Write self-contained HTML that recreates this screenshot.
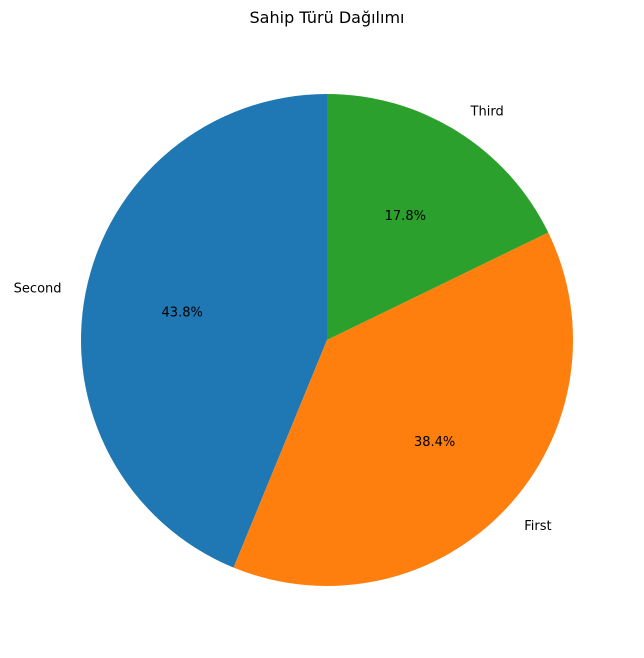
<!DOCTYPE html>
<html><head><meta charset="utf-8"><style>
body{margin:0;background:#fff;}
svg{display:block;font-family:"DejaVu Sans","Liberation Sans",sans-serif;}
</style></head><body>
<svg id="chart" width="644" height="658">
<text x="327" y="23" text-anchor="middle" font-size="16" fill="#000">Sahip Türü Dağılımı</text>
</svg>
<script>
const categories = ["Second", "First", "Third"];
const values = [43.8, 38.4, 17.8];
const colors = ["#1f77b4", "#ff7f0e", "#2ca02c"];
const cx = 327, cy = 340, r = 246, startAngle = 90;
const svg = document.getElementById('chart');
const NS = "http://www.w3.org/2000/svg";
const total = values.reduce((a,b)=>a+b,0);
let a0 = startAngle;
function pt(deg, rr){const t=deg*Math.PI/180;return [cx+rr*Math.cos(t), cy-rr*Math.sin(t)];}
values.forEach((v,i)=>{
  const sweep = v/total*360, a1 = a0+sweep;
  const [x0,y0]=pt(a0,r),[x1,y1]=pt(a1,r);
  const p=document.createElementNS(NS,'path');
  p.setAttribute('d',`M${cx},${cy} L${x0},${y0} A${r},${r} 0 ${sweep>180?1:0} 0 ${x1},${y1} Z`);
  p.setAttribute('fill',colors[i]);
  
  
  svg.appendChild(p);
  const mid=(a0+a1)/2;
  const [lx,ly]=pt(mid,r*1.1);
  const t=document.createElementNS(NS,'text');
  t.setAttribute('x',lx);t.setAttribute('y',ly+5);
  t.setAttribute('font-size','13');
  t.setAttribute('text-anchor',Math.cos(mid*Math.PI/180)<0?'end':'start');
  t.textContent=categories[i];
  
  
  svg.appendChild(t);
  const [px,py]=pt(mid,r*0.6);
  const q=document.createElementNS(NS,'text');
  q.setAttribute('x',px);q.setAttribute('y',py+5);
  q.setAttribute('font-size','13');q.setAttribute('text-anchor','middle');
  q.textContent=v.toFixed(1)+'%';
  
  
  svg.appendChild(q);
  a0=a1;
});
</script>
</body></html>
